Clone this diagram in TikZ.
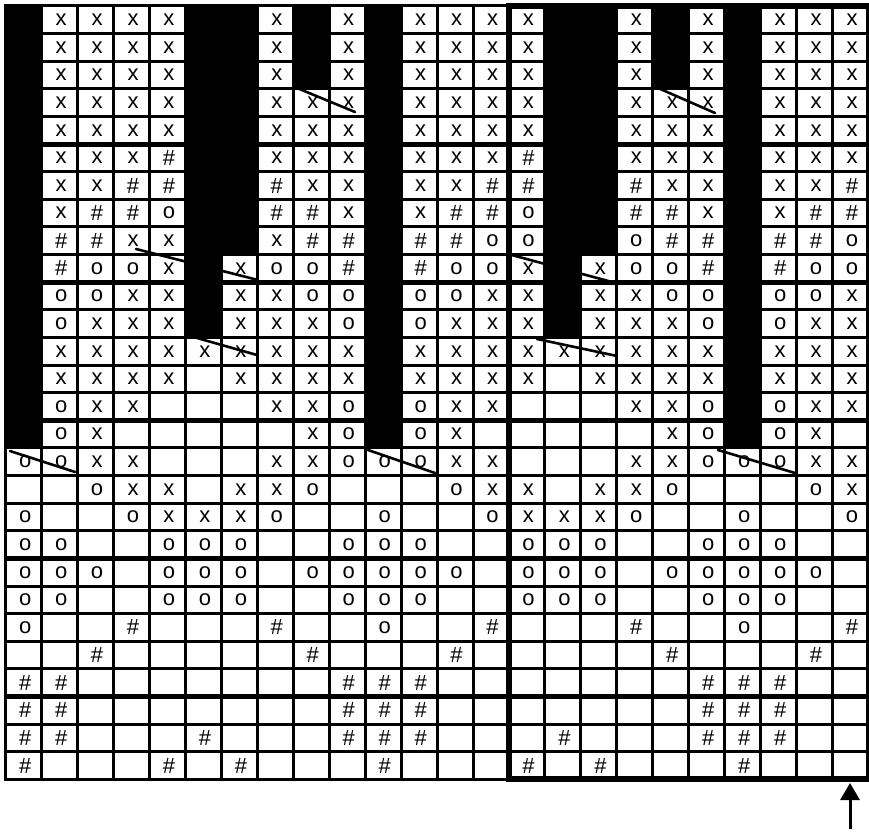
\documentclass[tikz,border=0pt]{standalone}
\usepackage{fontspec}
\setmainfont{Liberation Sans}
\usetikzlibrary{arrows.meta}
\begin{document}
\begin{tikzpicture}[x=1pt,y=-1pt,
  gridline/.style={line width=3pt,line cap=rect},
  thickline/.style={line width=5pt},
  boxline/.style={line width=6pt,line join=miter},
  slant/.style={line width=2.6pt,line cap=round},
  sym/.style={inner sep=0pt,font=\fontsize{22}{22}\selectfont},
  blackcell/.style={fill=black}]
\def\cw{35.95}\def\ch{27.62}\def\xo{5.7}\def\yo{6}
\useasboundingbox (0,0) rectangle (869,832);
\fill[white] (0,0) rectangle (869,832);
\foreach \rowlist [count=\rr from 0] in {
 {B,x,x,x,x,B,B,x,B,x,B,x,x,x,x,B,B,x,B,x,B,x,x,x},
 {B,x,x,x,x,B,B,x,B,x,B,x,x,x,x,B,B,x,B,x,B,x,x,x},
 {B,x,x,x,x,B,B,x,B,x,B,x,x,x,x,B,B,x,B,x,B,x,x,x},
 {B,x,x,x,x,B,B,x,x,x,B,x,x,x,x,B,B,x,x,x,B,x,x,x},
 {B,x,x,x,x,B,B,x,x,x,B,x,x,x,x,B,B,x,x,x,B,x,x,x},
 {B,x,x,x,h,B,B,x,x,x,B,x,x,x,h,B,B,x,x,x,B,x,x,x},
 {B,x,x,h,h,B,B,h,x,x,B,x,x,h,h,B,B,h,x,x,B,x,x,h},
 {B,x,h,h,o,B,B,h,h,x,B,x,h,h,o,B,B,h,h,x,B,x,h,h},
 {B,h,h,x,x,B,B,x,h,h,B,h,h,o,o,B,B,o,h,h,B,h,h,o},
 {B,h,o,o,x,B,x,o,o,h,B,h,o,o,x,B,x,o,o,h,B,h,o,o},
 {B,o,o,x,x,B,x,x,o,o,B,o,o,x,x,B,x,x,o,o,B,o,o,x},
 {B,o,x,x,x,B,x,x,x,o,B,o,x,x,x,B,x,x,x,o,B,o,x,x},
 {B,x,x,x,x,x,x,x,x,x,B,x,x,x,x,x,x,x,x,x,B,x,x,x},
 {B,x,x,x,x,e,x,x,x,x,B,x,x,x,x,e,x,x,x,x,B,x,x,x},
 {B,o,x,x,e,e,e,x,x,o,B,o,x,x,e,e,e,x,x,o,B,o,x,x},
 {B,o,x,e,e,e,e,e,x,o,B,o,x,e,e,e,e,e,x,o,B,o,x,e},
 {o,o,x,x,e,e,e,x,x,o,o,o,x,x,e,e,e,x,x,o,o,o,x,x},
 {e,e,o,x,x,e,x,x,o,e,e,e,o,x,x,e,x,x,o,e,e,e,o,x},
 {o,e,e,o,x,x,x,o,e,e,o,e,e,o,x,x,x,o,e,e,o,e,e,o},
 {o,o,e,e,o,o,o,e,e,o,o,o,e,e,o,o,o,e,e,o,o,o,e,e},
 {o,o,o,e,o,o,o,e,o,o,o,o,o,e,o,o,o,e,o,o,o,o,o,e},
 {o,o,e,e,o,o,o,e,e,o,o,o,e,e,o,o,o,e,e,o,o,o,e,e},
 {o,e,e,h,e,e,e,h,e,e,o,e,e,h,e,e,e,h,e,e,o,e,e,h},
 {e,e,h,e,e,e,e,e,h,e,e,e,h,e,e,e,e,e,h,e,e,e,h,e},
 {h,h,e,e,e,e,e,e,e,h,h,h,e,e,e,e,e,e,e,h,h,h,e,e},
 {h,h,e,e,e,e,e,e,e,h,h,h,e,e,e,e,e,e,e,h,h,h,e,e},
 {h,h,e,e,e,h,e,e,e,h,h,h,e,e,e,h,e,e,e,h,h,h,e,e},
 {h,e,e,e,h,e,h,e,e,e,h,e,e,e,h,e,h,e,e,e,h,e,e,e}}{
  \foreach \s [count=\cc from 0] in \rowlist {
    \pgfmathsetmacro{\px}{\xo+\cw*\cc}
    \pgfmathsetmacro{\py}{\yo+\ch*\rr}
    \if\s B\fill[blackcell] (\px,\py) rectangle ++(\cw,\ch);\fi
    \if\s x\node[sym] (t\rr-\cc) at (\px+\cw/2+1.5,\py+\ch/2) {x};\fi
    \if\s o\node[sym] (t\rr-\cc) at (\px+\cw/2+1.5,\py+\ch/2) {o};\fi
    \if\s h\node[sym] (t\rr-\cc) at (\px+\cw/2+1.5,\py+\ch/2) {\#};\fi
  }
}
% grid
\foreach \k in {0,...,24}
  \draw[gridline] (\xo+\cw*\k,\yo) -- (\xo+\cw*\k,\yo+\ch*28);
\foreach \k in {0,...,28}
  \draw[gridline] (\xo,\yo+\ch*\k) -- (\xo+\cw*24,\yo+\ch*\k);
\foreach \k in {5,10,15,20,25}
  \draw[thickline] (\xo,\yo+\ch*\k) -- (\xo+\cw*24,\yo+\ch*\k);
\draw[boxline] (\xo+\cw*14,\yo) rectangle (\xo+\cw*24,\yo+\ch*28);
% slanted marks
\draw[slant] (297,88) -- (355,112);
\draw[slant] (658,88) -- (715,113);
\draw[slant] (136,249) -- (258,280);
\draw[slant] (508,254) -- (612,282);
\draw[slant] (197,338) -- (257,355);
\draw[slant] (537,339) -- (617,356);
\draw[slant] (10,451) -- (75,472);
\draw[slant] (368,450) -- (435,473);
\draw[slant] (718,450) -- (795,473);
% arrow
\coordinate (arrowtail) at (850,829);
\coordinate (arrowtip) at (850,783);
\draw[line width=3pt,-{Triangle[length=17pt,width=19pt]}] (arrowtail) -- (arrowtip);
\end{tikzpicture}
\end{document}
